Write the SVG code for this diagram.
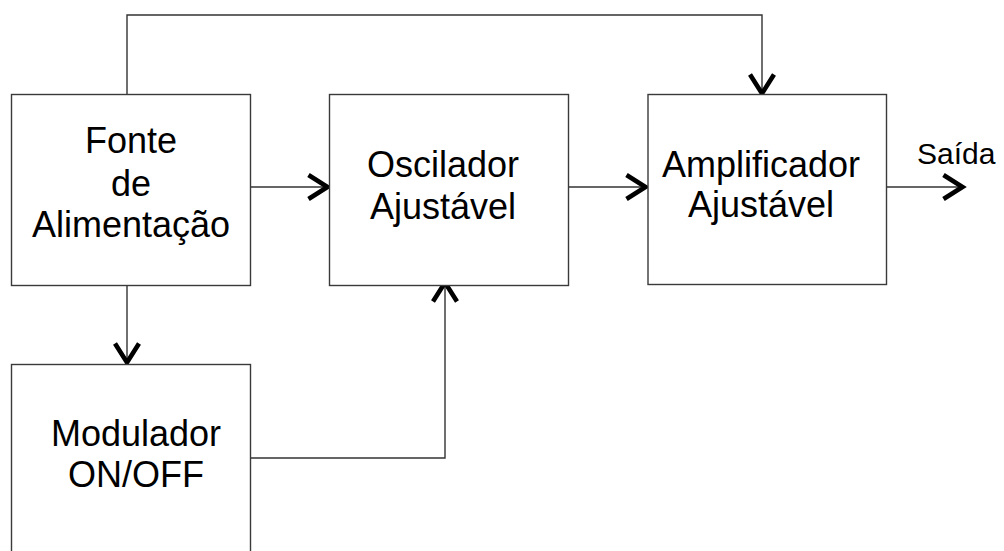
<svg xmlns="http://www.w3.org/2000/svg" width="1004" height="551" viewBox="0 0 1004 551">
<style>
.box{fill:#fff;stroke:#3a3a3a;stroke-width:1.4}
.wire{fill:none;stroke:#333;stroke-width:1.4}
.lbl{font-family:"Liberation Sans",Arial,sans-serif;font-size:36px;fill:#000;text-anchor:middle}
.out{font-family:"Liberation Sans",Arial,sans-serif;font-size:30px;fill:#000}
</style>
<defs>
<marker id="chev" markerUnits="userSpaceOnUse" markerWidth="30" markerHeight="30" viewBox="-25 -15 30 30" refX="-1.5" refY="0" orient="auto">
<path d="M-19,-12 L0,0 L-19,12" fill="none" stroke="#000" stroke-width="4.6"/>
</marker>
</defs>
<rect width="1004" height="551" fill="#fff"/>
<g id="connectors">
<polyline class="wire" points="127,94 127,15 762,15 762,92" marker-end="url(#chev)"/>
<line class="wire" x1="251" y1="187" x2="326" y2="187" marker-end="url(#chev)"/>
<line class="wire" x1="569" y1="187" x2="644" y2="187" marker-end="url(#chev)"/>
<line class="wire" x1="887" y1="187" x2="961" y2="187" marker-end="url(#chev)"/>
<line class="wire" x1="127" y1="286" x2="127" y2="361" marker-end="url(#chev)"/>
<polyline class="wire" points="251,458 445,458 445,284" marker-end="url(#chev)"/>
</g>
<g id="fonte">
<rect class="box" x="11.5" y="94.5" width="239" height="191"/>
<text class="lbl" x="131" y="153">Fonte</text>
<text class="lbl" x="131" y="196">de</text>
<text class="lbl" x="131" y="237">Alimentação</text>
</g>
<g id="oscilador">
<rect class="box" x="329.5" y="94.5" width="239" height="191"/>
<text class="lbl" x="443" y="177">Oscilador</text>
<text class="lbl" x="443" y="219">Ajustável</text>
</g>
<g id="amplificador">
<rect class="box" x="648" y="94.5" width="238.5" height="190"/>
<text class="lbl" x="761" y="177">Amplificador</text>
<text class="lbl" x="761" y="217">Ajustável</text>
</g>
<g id="modulador">
<rect class="box" x="11.5" y="364.5" width="239" height="200"/>
<text class="lbl" x="136" y="446">Modulador</text>
<text class="lbl" x="136" y="487">ON/OFF</text>
</g>
<g id="saida">
<text class="out" x="917" y="164">Saída</text>
</g>
</svg>
